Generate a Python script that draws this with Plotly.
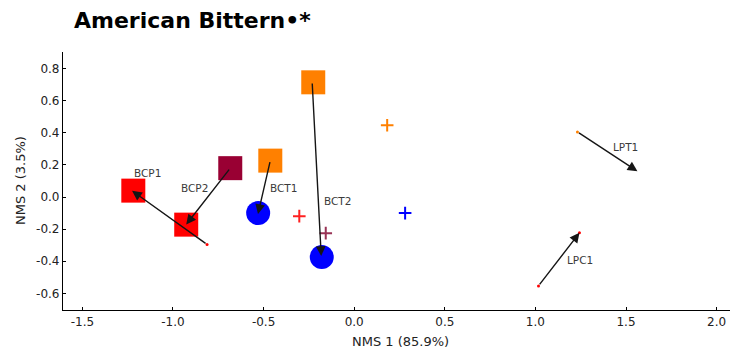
import plotly.graph_objects as go

# ---------------- data ----------------
title_text = "American Bittern•*"
x_title = "NMS 1 (85.9%)"
y_title = "NMS 2 (3.5%)"

x_ticks = [-1.5, -1.0, -0.5, 0.0, 0.5, 1.0, 1.5, 2.0]
y_ticks = [-0.6, -0.4, -0.2, 0.0, 0.2, 0.4, 0.6, 0.8]

# square site markers
sq_x = [-1.219, -0.927, -0.684, -0.463, -0.226]
sq_y = [0.040, -0.172, 0.180, 0.227, 0.715]
sq_col = ["#ff0000", "#ff0000", "#990033", "#ff8000", "#ff8000"]

# circle site markers
ci_x = [-0.530, -0.179]
ci_y = [-0.100, -0.374]
ci_col = ["#0000ff", "#0000ff"]

# cross markers
cr_x = [-0.303, -0.157, 0.182, 0.281]
cr_y = [-0.119, -0.225, 0.447, -0.100]
cr_col = ["#ff2020", "#993355", "#ff8000", "#0000ff"]

# tiny point markers
dot_x = [-0.812, 1.232, 1.017, 1.243]
dot_y = [-0.295, 0.406, -0.554, -0.223]
dot_col = ["#ff0000", "#ff8000", "#ff0000", "#ff0000"]

# arrows (tail -> head)
arr_tail_x = [-0.812, -0.684, -0.463, -0.232, 1.232, 1.017]
arr_tail_y = [-0.295, 0.180, 0.227, 0.717, 0.406, -0.554]
arr_head_x = [-1.226, -0.927, -0.531, -0.182, 1.563, 1.243]
arr_head_y = [0.039, -0.171, -0.106, -0.367, 0.161, -0.223]

# arrow labels
lab_text = ["BCP1", "BCP2", "BCT1", "BCT2", "LPT1", "LPC1"]
lab_x = [-1.143, -0.881, -0.390, -0.092, 1.495, 1.247]
lab_y = [0.147, 0.054, 0.057, -0.024, 0.309, -0.393]

# ---------------- figure ----------------
FONT = "DejaVu Sans"
W, H = 730, 345          # page body has an 8px margin
ML, MR, MT, MB = 55, 0, 44, 43
PW, PH = W - ML - MR, H - MT - MB

fig = go.Figure()

fig.add_trace(go.Scatter(
    x=sq_x, y=sq_y, mode="markers",
    marker=dict(symbol="square", size=24, color=sq_col, line=dict(width=0)),
    showlegend=False, hoverinfo="skip"))

fig.add_trace(go.Scatter(
    x=ci_x, y=ci_y, mode="markers",
    marker=dict(symbol="circle", size=24, color=ci_col, line=dict(width=0)),
    showlegend=False, hoverinfo="skip"))

fig.add_trace(go.Scatter(
    x=cr_x, y=cr_y, mode="markers",
    marker=dict(symbol="cross-thin", size=9, color=cr_col,
                line=dict(width=2, color=cr_col)),
    showlegend=False, hoverinfo="skip"))

fig.add_trace(go.Scatter(
    x=dot_x, y=dot_y, mode="markers",
    marker=dict(symbol="circle", size=3, color=dot_col),
    showlegend=False, hoverinfo="skip"))

annotations = []
for tx, ty, hx, hy in zip(arr_tail_x, arr_tail_y, arr_head_x, arr_head_y):
    annotations.append(dict(
        x=hx, y=hy, ax=tx, ay=ty, xref="x", yref="y", axref="x", ayref="y",
        text="", showarrow=True, arrowhead=2, arrowsize=1.4, arrowwidth=1.4,
        arrowcolor="#151515", standoff=0, startstandoff=0))

for t, lx, ly in zip(lab_text, lab_x, lab_y):
    annotations.append(dict(
        x=lx, y=ly, xref="x", yref="y", text=t, showarrow=False,
        font=dict(family=FONT, size=10.5, color="#3a3a3a"),
        xanchor="center", yanchor="middle"))

# axis titles
annotations.append(dict(
    x=0.5, y=-(341.7 - 310) / PH, xref="paper", yref="paper",
    text=x_title, showarrow=False, xanchor="center", yanchor="middle",
    font=dict(family=FONT, size=13, color="#222222")))
annotations.append(dict(
    x=(20 - 63) / PW, y=0.5, xref="paper", yref="paper",
    text=y_title, showarrow=False, xanchor="center", yanchor="middle",
    textangle=-90, font=dict(family=FONT, size=13, color="#222222")))

fig.update_layout(
    width=W, height=H,
    margin=dict(l=ML, r=MR, t=MT, b=MB),
    paper_bgcolor="white", plot_bgcolor="white",
    title=dict(text="<b>" + title_text + "</b>", xref="container", yref="container",
               x=(74 - 8) / W, xanchor="left", y=1 - (20 - 8) / H, yanchor="middle",
               font=dict(family=FONT, size=22, color="#000000")),
    annotations=annotations,
    showlegend=False,
)

fig.update_xaxes(
    range=[-1.607, 2.118], tickvals=x_ticks,
    ticktext=[f"{v:.1f}" for v in x_ticks],
    showline=True, linecolor="#000000", linewidth=1.2,
    ticks="inside", ticklen=3, tickcolor="#000000", tickwidth=1,
    showgrid=False, zeroline=False,
    tickfont=dict(family=FONT, size=12, color="#222222"))

fig.update_yaxes(
    range=[-0.704, 0.904], tickvals=y_ticks,
    ticktext=[f"{v:.1f}" for v in y_ticks],
    showline=True, linecolor="#000000", linewidth=1.2,
    ticks="inside", ticklen=3, tickcolor="#000000", tickwidth=1,
    showgrid=False, zeroline=False,
    tickfont=dict(family=FONT, size=12, color="#222222"))

fig.write_html("out.html")
